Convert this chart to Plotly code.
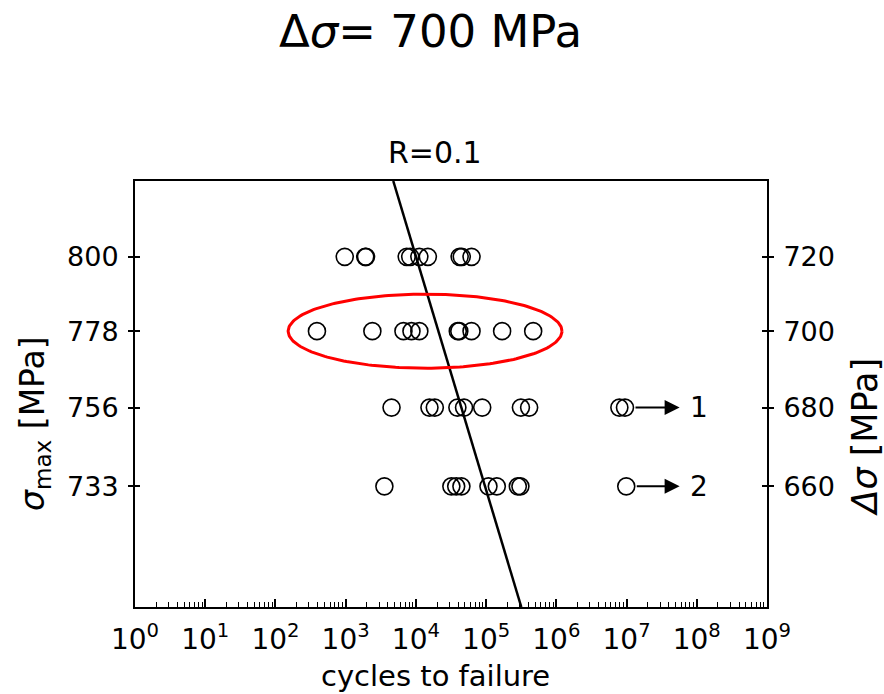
import numpy as np
import plotly.graph_objects as go

# Load ratio and the stress range singled out in the title / ellipse
R = 0.1
HIGHLIGHT_DS = 700

# Stress-range levels (MPa), top to bottom
ds_levels = [720, 700, 680, 660]

# Cycles to failure at each stress range
n_720 = [970, 1900, 1950, 7400, 8300, 11200, 14800, 42000, 45000, 62000]
n_700 = [390, 2400, 6650, 8650, 11200, 39500, 41500, 62000, 169000, 468000]
n_680 = [4500, 15600, 18600, 39000, 48500, 88000, 313000, 410000]
n_660 = [3560, 32000, 37500, 44500, 108000, 142000, 283000, 308000]
failures = {720: n_720, 700: n_700, 680: n_680, 660: n_660}

# Run-outs (specimens that did not fail)
runout_levels = [680, 660]
runout_n = [[7.9e6, 9.5e6], [9.9e6]]
runout_labels = ["1", "2"]
runout_arrow_end = 5.7e7

# Basquin-type fit: log10(N) = fit_log_c - fit_m * log10(Δσ)
fit_m = 26.0
fit_log_c = 78.293

# Axis limits
ds_limits = [630.5, 741.0]
decades = list(range(0, 10))

FONT = "DejaVu Sans"
TICK_SIZE = 27
TITLE_SIZE = 33

fig = go.Figure()

marker_style = dict(symbol="circle-open", size=17, color="black",
                    line=dict(width=1.6, color="black"))

# failure points
for ds in ds_levels:
    n = failures[ds]
    fig.add_trace(go.Scatter(x=n, y=[ds] * len(n), mode="markers",
                             marker=marker_style, hoverinfo="x+y"))

# run-out points
for ds, n in zip(runout_levels, runout_n):
    fig.add_trace(go.Scatter(x=n, y=[ds] * len(n), mode="markers",
                             marker=marker_style, hoverinfo="x+y"))

# fitted S-N line across the full stress range of the plot
fit_ds = np.array(ds_limits[::-1])
fit_n = 10 ** (fit_log_c - fit_m * np.log10(fit_ds))
fig.add_trace(go.Scatter(x=fit_n, y=fit_ds, mode="lines",
                         line=dict(color="black", width=2.5), hoverinfo="skip"))

# ellipse around the highlighted stress range (drawn in log-log space)
hl = np.log10(failures[HIGHLIGHT_DS])
pad = 0.41
cx = (hl.min() + hl.max()) / 2
a = (hl.max() - hl.min()) / 2 + pad
b = 0.0061
t = np.linspace(0, 2 * np.pi, 240)
ex = 10 ** (cx + a * np.cos(t))
ey = 10 ** (np.log10(HIGHLIGHT_DS) + b * np.sin(t))
fig.add_trace(go.Scatter(x=ex, y=ey, mode="lines",
                         line=dict(color="#ff0000", width=3), hoverinfo="skip"))

# helper traces so the overlaid tick axes are drawn
for ya in ["y2", "y3", "y4"]:
    fig.add_trace(go.Scatter(x=[10], y=[HIGHLIGHT_DS], yaxis=ya, mode="markers",
                             marker=dict(opacity=0), hoverinfo="skip"))

log_ds = [np.log10(v) for v in ds_limits]
sigma_max = [str(round(d / (1 - R))) for d in ds_levels]

axis_common = dict(type="log", range=log_ds, tickvals=ds_levels,
                   showgrid=False, zeroline=False, tickcolor="black",
                   tickwidth=2, ticklen=5)

fig.update_layout(
    width=884, height=694,
    margin=dict(l=135, r=117, t=181, b=87),
    plot_bgcolor="white", paper_bgcolor="white",
    showlegend=False,
    font=dict(family=FONT, size=TICK_SIZE, color="black"),
    xaxis=dict(type="log", range=[0, 9],
               tickvals=[10 ** k for k in decades],
               ticktext=[f"10<sup>{k}</sup>" for k in decades],
               ticks="inside", ticklen=8, tickwidth=1.5, tickcolor="black",
               minor=dict(ticks="inside", ticklen=5, tickwidth=1.3, tickcolor="black",
                          tickvals=[m * 10 ** k for k in decades[:-1] for m in range(2, 10)]),
               showline=True, linecolor="black", linewidth=2, mirror=True,
               showgrid=False, zeroline=False, ticklabelstandoff=6,
               tickfont=dict(size=TICK_SIZE + 1)),
    yaxis=dict(**axis_common, ticktext=sigma_max, ticks="outside", side="left",
               showline=True, linecolor="black", linewidth=2,
               ticklabelstandoff=4),
    yaxis2=dict(**axis_common, ticktext=[str(d) for d in ds_levels], ticks="outside",
                side="right", overlaying="y", anchor="x",
                showline=True, linecolor="black", linewidth=2,
                ticklabelstandoff=4),
    yaxis3=dict(**axis_common, ticks="inside", side="left", overlaying="y",
                anchor="x", showticklabels=False, showline=False),
    yaxis4=dict(**axis_common, ticks="inside", side="right", overlaying="y",
                anchor="x", showticklabels=False, showline=False),
)

annotations = []
# run-out arrows and their labels
for ds, n, lab in zip(runout_levels, runout_n, runout_labels):
    annotations.append(dict(
        x=np.log10(runout_arrow_end), y=np.log10(ds), xref="x", yref="y",
        ax=np.log10(max(n)), ay=np.log10(ds), axref="x", ayref="y",
        text="", showarrow=True, arrowhead=2, arrowwidth=2, arrowsize=1.5,
        arrowcolor="black", startstandoff=9))
    annotations.append(dict(
        x=np.log10(runout_arrow_end), y=np.log10(ds), xref="x", yref="y",
        text=lab, showarrow=False, xanchor="left", xshift=8,
        font=dict(size=TICK_SIZE + 1)))

annotations += [
    dict(text=f"Δ<i>σ</i>= {HIGHLIGHT_DS} MPa", xref="paper", yref="paper",
         x=0.4668, y=1.352, showarrow=False, xanchor="center", yanchor="middle",
         font=dict(size=45)),
    dict(text=f"R={R}", xref="paper", yref="paper", x=0.4747, y=1.066,
         showarrow=False, xanchor="center", yanchor="middle",
         font=dict(size=30)),
    dict(text="cycles to failure", xref="paper", yref="paper", x=0.4747, y=-0.162,
         showarrow=False, xanchor="center", yanchor="middle",
         font=dict(size=29)),
    dict(text="<i>σ</i><sub>max</sub> [MPa]", xref="paper", yref="paper",
         x=-0.158, y=0.43, textangle=-90, showarrow=False,
         xanchor="center", yanchor="middle", font=dict(size=TITLE_SIZE)),
    dict(text="<i>Δσ</i> [MPa]", xref="paper", yref="paper",
         x=1.155, y=0.40, textangle=-90, showarrow=False,
         xanchor="center", yanchor="middle", font=dict(size=TITLE_SIZE + 2)),
]
fig.update_layout(annotations=annotations)

fig.write_html("out.html")
